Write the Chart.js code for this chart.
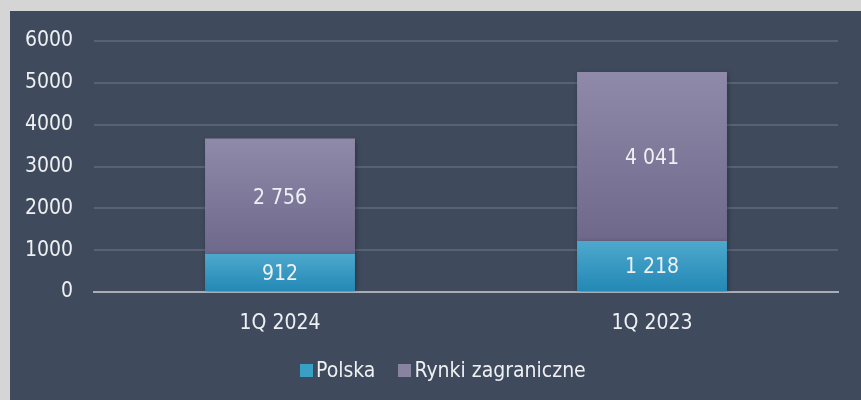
<!DOCTYPE html>
<html lang="pl">
<head>
  <meta charset="UTF-8">
  <title>Polska / Rynki zagraniczne</title>
  <script src="https://cdn.jsdelivr.net/npm/chart.js"></script>
  <style>
    html, body {
      margin: 0;
      padding: 0;
      background: #d5d5d5;
    }
    .box {
      position: absolute;
      left: 10px;
      top: 11px;
      width: 851px;
      height: 389px;
      background: #3f4b5d;
    }
    #legend {
      position: absolute;
      left: 290px;
      top: 346px;
      height: 26px;
      display: flex;
      align-items: center;
      font: 21px 'DejaVu Sans Condensed', 'DejaVu Sans', sans-serif;
      color: #eef0f3;
      white-space: nowrap;
    }
    #legend .item {
      display: flex;
      align-items: center;
      margin-right: 23px;
    }
    #legend .sw {
      width: 13px;
      height: 13px;
      margin-right: 3px;
    }
  </style>
</head>
<body>
  <div class="box">
    <canvas id="chart" width="851" height="389"></canvas>
    <div id="legend"></div>
  </div>
  <script>
  // dane z wykresu
  const categories = ["1Q 2024", "1Q 2023"];
  const polska = [912, 1218];
  const rynki = [2756, 4041];
  const seriesNames = ["Polska", "Rynki zagraniczne"];
  const yTicks = [0, 1000, 2000, 3000, 4000, 5000, 6000];

  const FONT = "'DejaVu Sans Condensed', 'DejaVu Sans', sans-serif";
  const TXT = "#eef0f3";
  const legendCols = ["#3a9fc5", "#8883a1"];

  // gradient dla kazdego slupka osobno (od gory do dolu)
  function barGradient(top, bottom) {
    return function (ctx) {
      const chart = ctx.chart;
      const y = chart.scales.y;
      if (!y || ctx.type !== "data") return bottom;
      const ds = chart.data.datasets;
      let start = 0;
      for (let i = 0; i < ctx.datasetIndex; i++) start += ds[i].data[ctx.dataIndex];
      const end = start + ds[ctx.datasetIndex].data[ctx.dataIndex];
      const y0 = y.getPixelForValue(end);
      const y1 = y.getPixelForValue(start);
      if (!isFinite(y0) || !isFinite(y1)) return bottom;
      const g = chart.ctx.createLinearGradient(0, y0, 0, y1);
      g.addColorStop(0, top);
      g.addColorStop(1, bottom);
      return g;
    };
  }

  function fmt(v) {
    return String(v).replace(/\B(?=(\d{3})+(?!\d))/g, " ");
  }

  // cien pod slupkami
  const shadowPlugin = {
    id: "barShadow",
    beforeDatasetsDraw(chart) {
      const c = chart.ctx;
      c.save();
      c.shadowColor = "rgba(0,0,0,0.35)";
      c.shadowBlur = 5;
      c.shadowOffsetX = 1;
      c.shadowOffsetY = 1;
    },
    afterDatasetsDraw(chart) {
      chart.ctx.restore();
    }
  };

  // etykiety wartosci w srodku slupkow
  const valueLabels = {
    id: "valueLabels",
    afterDatasetsDraw(chart) {
      const c = chart.ctx;
      c.save();
      c.font = "21px " + FONT;
      c.fillStyle = TXT;
      c.textAlign = "center";
      c.textBaseline = "middle";
      chart.data.datasets.forEach((ds, di) => {
        const meta = chart.getDatasetMeta(di);
        meta.data.forEach((bar, i) => {
          const mid = (bar.y + bar.base) / 2;
          c.fillText(fmt(ds.data[i]), bar.x, mid + 2);
        });
      });
      c.restore();
    }
  };

  const chart = new Chart(document.getElementById("chart"), {
    type: "bar",
    data: {
      labels: categories,
      datasets: [
        {
          label: seriesNames[0],
          data: polska,
          backgroundColor: barGradient("#4ea8cd", "#2288b4"),
          borderWidth: 0
        },
        {
          label: seriesNames[1],
          data: rynki,
          backgroundColor: barGradient("#8f8aa9", "#6e698b"),
          borderWidth: 0
        }
      ]
    },
    options: {
      responsive: false,
      animation: false,
      layout: { padding: { top: 30, right: 23, left: 0, bottom: 58 } },
      barPercentage: 0.403,
      categoryPercentage: 1,
      plugins: {
        legend: { display: false },
        tooltip: { enabled: false }
      },
      scales: {
        x: {
          stacked: true,
          afterFit(scale) {
            scale.height = 50;
          },
          grid: { display: false, drawTicks: false },
          border: { color: "#a9aeb6", width: 2 },
          ticks: {
            color: TXT,
            font: { family: FONT, size: 21 },
            padding: 19
          }
        },
        y: {
          stacked: true,
          min: 0,
          max: 6000,
          afterBuildTicks(scale) {
            scale.ticks = yTicks.map(v => ({ value: v }));
          },
          afterFit(scale) {
            scale.width = 84;
            scale.paddingTop = 12;
            scale.paddingBottom = 12;
          },
          grid: { color: "#576273", lineWidth: 2, drawTicks: false },
          border: { display: false },
          ticks: {
            color: TXT,
            font: { family: FONT, size: 21 },
            padding: 21,
            callback: v => String(v)
          }
        }
      }
    },
    plugins: [shadowPlugin, valueLabels]
  });

  // legenda w HTML
  const legend = document.getElementById("legend");
  chart.data.datasets.forEach((ds, i) => {
    const item = document.createElement("span");
    item.className = "item";
    const sw = document.createElement("span");
    sw.className = "sw";
    sw.style.background = legendCols[i];
    const txt = document.createElement("span");
    txt.textContent = ds.label;
    item.appendChild(sw);
    item.appendChild(txt);
    legend.appendChild(item);
  });
  </script>
</body>
</html>
